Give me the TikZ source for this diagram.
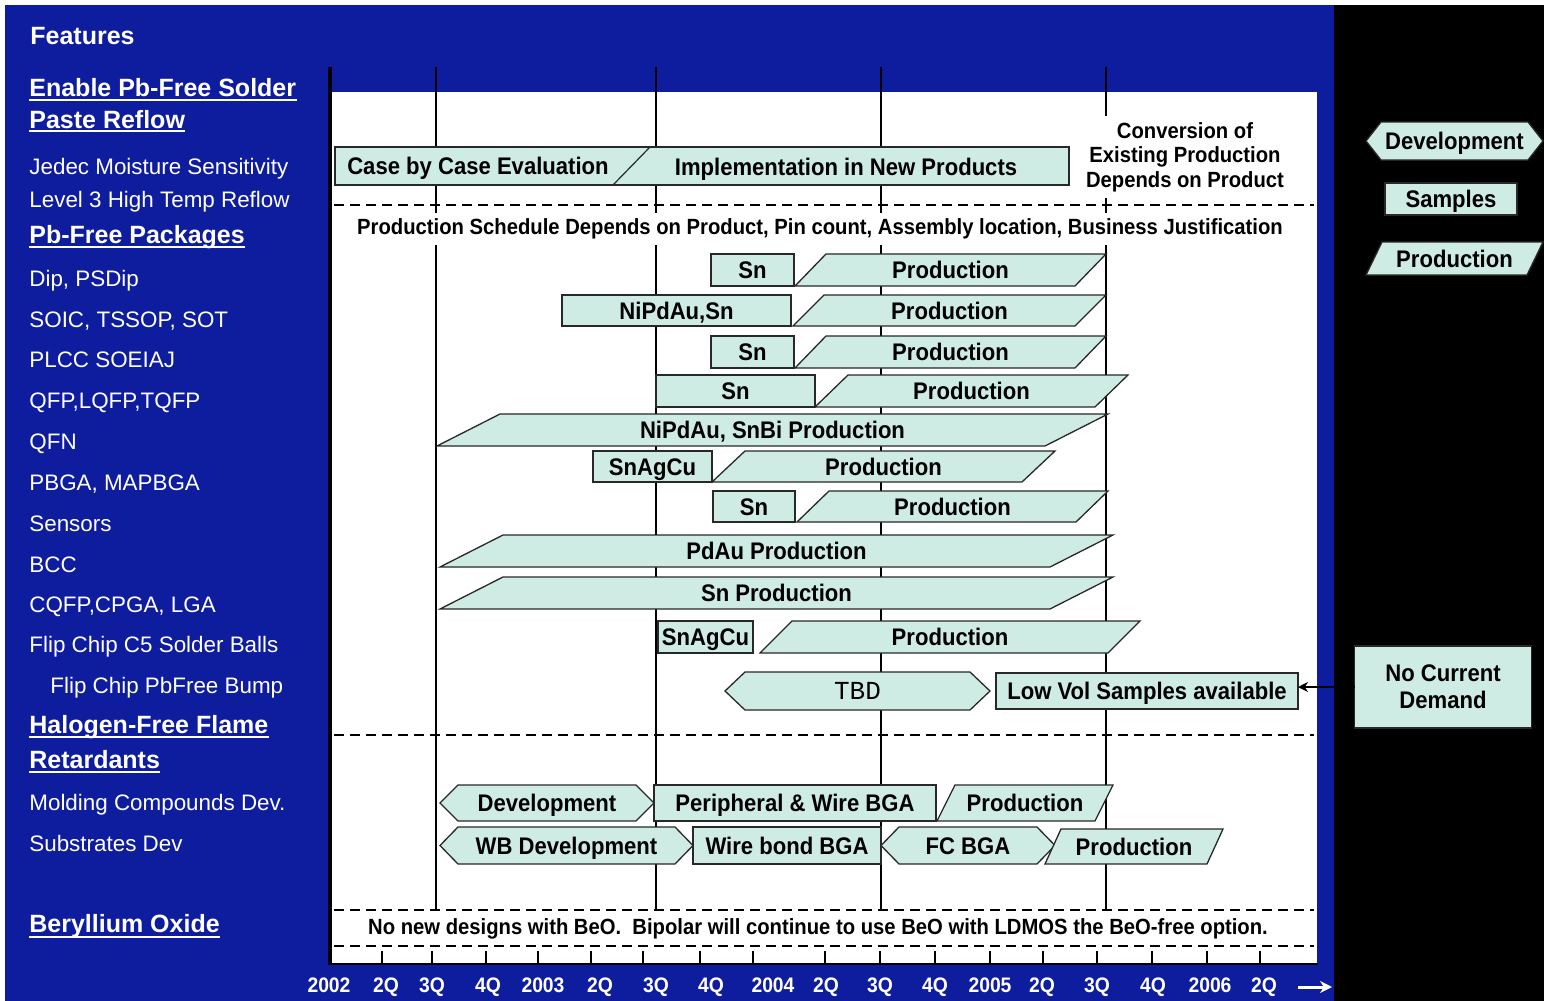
\documentclass[tikz,border=0pt]{standalone}
\usepackage{fontspec}
\setmainfont{Liberation Sans}
\newfontfamily\barfont[FakeStretch=0.92]{Liberation Sans}
\newfontfamily\tbdfont{Liberation Mono}
\usetikzlibrary{arrows.meta,calc}

\definecolor{panelblue}{RGB}{14,28,158}
\definecolor{barfill}{RGB}{206,236,228}
\definecolor{barline}{RGB}{40,40,40}

\tikzset{
  bar/.style={draw=barline, fill=barfill, line width=0.65pt, line join=miter},
  bartext/.style={font={\barfont\bfseries\fontsize{12}{14}\selectfont}, text=black, inner sep=0,
                  text height=8.6pt, text depth=0pt},
  sampbox/.style={bar, inner sep=0, outer sep=0, font={\barfont\bfseries\fontsize{12}{14}\selectfont},
                  text=black, text height=8.6pt, text depth=0pt},
  demandbox/.style={bar, inner sep=0, outer sep=0, align=center, text=black,
                    font={\barfont\bfseries\fontsize{12}{13.5}\selectfont}},
  feat/.style={anchor=base west, inner sep=0, text=white, font={\fontsize{11.2}{13}\selectfont}},
  head/.style={anchor=base west, inner sep=0, text=white, font={\bfseries\fontsize{12.5}{15}\selectfont}},
  uline/.style={white, line width=1.1pt},
  gridline/.style={black, line width=0.75pt},
  sepline/.style={black, line width=0.7pt, dash pattern=on 5pt off 3pt},
  note/.style={fill=white, text=black, inner xsep=2pt, inner ysep=3pt, font={\barfont\bfseries\fontsize{11}{12.2}\selectfont}},
  axislbl/.style={text=white, inner sep=0, anchor=base, font={\barfont\bfseries\fontsize{10.5}{12}\selectfont}},
}

% Production: parallelogram leaning right
% #1 name, #2 bottom-left x, #3 top-right x, #4 top y, #5 bottom y, #6 slant, #7 label
\newcommand{\ProdBar}[7]{%
  \draw[bar] (#2,#5) -- ({#2+#6},#4) -- (#3,#4) -- ({#3-#6},#5) -- cycle;
  \node[bartext] (#1) at ({(#2+#3)/2},{(#4+#5)/2}) {#7};}
% Samples: plain box
% #1 name, #2 left x, #3 right x, #4 top y, #5 bottom y, #6 label
\newcommand{\SampBar}[6]{%
  \node[sampbox, minimum width={(#3-#2)*0.5pt}, minimum height={(#5-#4)*0.5pt}]
    (#1) at ({(#2+#3)/2},{(#4+#5)/2}) {#6};}
% Development: pointed hexagon
% #1 name, #2 left tip x, #3 right tip x, #4 top y, #5 bottom y, #6 indent, #7 label
\newcommand{\DevBar}[7]{%
  \draw[bar] (#2,{(#4+#5)/2}) -- ({#2+#6},#4) -- ({#3-#6},#4) -- (#3,{(#4+#5)/2})
     -- ({#3-#6},#5) -- ({#2+#6},#5) -- cycle;
  \node[bartext] (#1) at ({(#2+#3)/2},{(#4+#5)/2}) {#7};}

\begin{document}
\begin{tikzpicture}[x=0.5pt,y=-0.5pt]
\useasboundingbox (0,0) rectangle (1544,1001);

% backgrounds
\fill[white] (0,0) rectangle (1544,1001);
\fill[panelblue] (5,5) rectangle (1334,1001);
\fill[black] (1334,5) rectangle (1544,1001);
\fill[white] (332,92) rectangle (1317,963);

% quarter grid lines
\foreach \gx in {436,656,881,1106}
  \draw[gridline] (\gx,67) -- (\gx,910);

% dashed separators
\foreach \gy in {205,735,910,946}
  \draw[sepline] (334,\gy) -- (1314,\gy);

% axes
\draw[black, line width=2pt] (330,67) -- (330,965);
\draw[black, line width=1.2pt] (330,964) -- (1318,964);
\foreach \tx in {382,432,486,538,591,643,700,753,825,880,935,990,1043,1097,1152,1207,1260}
  \draw[black, line width=0.7pt] (\tx,963) -- (\tx,951);

% axis labels
\foreach \lx/\lt in {329/2002,386/2Q,432/3Q,488/4Q,543/2003,600/2Q,656/3Q,711/4Q,773/2004,826/2Q,880/3Q,935/4Q,990/2005,1042/2Q,1097/3Q,1153/4Q,1210/2006,1264/2Q}
  \node[axislbl] at (\lx,992) {\lt};
\coordinate (axA) at (1298,987);
\coordinate (axB) at (1332,987);
\draw[white, line width=1.5pt, -{Stealth[length=6pt,width=6pt]}] (axA) -- (axB);

% feature list
\node[head] (fthead) at (30,45) {Features};
\node[head] (h1) at (29,97) {Enable Pb-Free Solder};
\draw[uline] ([yshift=-1.5pt]h1.base west) -- ([yshift=-1.5pt]h1.base east);
\node[head] (h2) at (29,128) {Paste Reflow};
\draw[uline] ([yshift=-1.5pt]h2.base west) -- ([yshift=-1.5pt]h2.base east);
\node[feat] (f1) at (29,174) {Jedec Moisture Sensitivity};
\node[feat] (f2) at (29,207) {Level 3 High Temp Reflow};
\node[head] (h3) at (29,243) {Pb-Free Packages};
\draw[uline] ([yshift=-2pt]h3.base west) -- ([yshift=-2pt]h3.base east);
\node[feat] (f3) at (29,286) {Dip, PSDip};
\node[feat] (f4) at (29,327) {SOIC, TSSOP, SOT};
\node[feat] (f5) at (29,367) {PLCC SOEIAJ};
\node[feat] (f6) at (29,408) {QFP,LQFP,TQFP};
\node[feat] (f7) at (29,449) {QFN};
\node[feat] (f8) at (29,490) {PBGA, MAPBGA};
\node[feat] (f9) at (29,531) {Sensors};
\node[feat] (f10) at (29,572) {BCC};
\node[feat] (f11) at (29,612) {CQFP,CPGA, LGA};
\node[feat] (f12) at (29,652) {Flip Chip C5 Solder Balls};
\node[feat] (f13) at (50,693) {Flip Chip PbFree Bump};
\node[head] (h4) at (29,733) {Halogen-Free Flame};
\draw[uline] ([yshift=-2pt]h4.base west) -- ([yshift=-2pt]h4.base east);
\node[head] (h5) at (29,768) {Retardants};
\draw[uline] ([yshift=-2pt]h5.base west) -- ([yshift=-2pt]h5.base east);
\node[feat] (f14) at (29,810) {Molding Compounds Dev.};
\node[feat] (f15) at (29,851) {Substrates Dev};
\node[head] (h6) at (29,932) {Beryllium Oxide};
\draw[uline] ([yshift=-2.5pt]h6.base west) -- ([yshift=-2.5pt]h6.base east);

% solder paste reflow row
\draw[bar] (335,147) rectangle (1069,185);
\draw[barline, line width=0.6pt] (613,185) -- (650,147);
\node[bartext] (casebycase) at (478,166) {Case by Case Evaluation};
\node[bartext] (implement) at (846,167) {Implementation in New Products};
\node[note, align=center] (conv) at (1185,157) {Conversion of\\Existing Production\\Depends on Product};

\node[note] (schedule) at (820,229) {Production Schedule Depends on Product, Pin count, Assembly location, Business Justification};

% package rows
\SampBar{snA}{711}{794}{254}{286}{Sn}
\ProdBar{prA}{795}{1106}{254}{286}{31}{Production}
\SampBar{nipdB}{562}{791}{295}{326}{NiPdAu,Sn}
\ProdBar{prB}{793}{1106}{295}{326}{31}{Production}
\SampBar{snC}{711}{794}{336}{368}{Sn}
\ProdBar{prC}{795}{1106}{336}{368}{31}{Production}
\SampBar{snD}{656}{815}{375}{407}{Sn}
\ProdBar{prD}{815}{1128}{375}{407}{33}{Production}
\ProdBar{prE}{437}{1108}{414}{446}{63}{NiPdAu, SnBi Production}
\SampBar{sacF}{593}{712}{451}{482}{SnAgCu}
\ProdBar{prF}{712}{1055}{451}{482}{33}{Production}
\SampBar{snG}{713}{795}{491}{522}{Sn}
\ProdBar{prG}{797}{1108}{491}{522}{32}{Production}
\ProdBar{prH}{440}{1113}{535}{567}{63}{PdAu Production}
\ProdBar{prI}{440}{1113}{577}{609}{63}{Sn Production}
\SampBar{sacJ}{658}{753}{621}{653}{SnAgCu}
\ProdBar{prJ}{760}{1140}{621}{653}{32}{Production}
\DevBar{tbd}{725}{990}{672}{710}{20}{{\tbdfont\mdseries\fontsize{13}{15}\selectfont TBD}}
\SampBar{lowvol}{996}{1298}{673}{709}{Low Vol Samples available}

% halogen-free rows
\DevBar{devL}{440}{654}{785}{821}{18}{Development}
\SampBar{periL}{654}{936}{785}{821}{Peripheral \& Wire BGA}
\ProdBar{prL}{937}{1113}{785}{821}{18}{Production}
\DevBar{wbdM}{440}{693}{827}{864}{18}{WB Development}
\SampBar{wbM}{693}{881}{827}{864}{Wire bond BGA}
\DevBar{fcM}{881}{1055}{827}{864}{18}{FC BGA}
\ProdBar{prM}{1045}{1223}{829}{864}{16}{Production}

% beryllium oxide note
\node[note] (beo) at (818,929)
  {No new designs with BeO.\ \ Bipolar will continue to use BeO with LDMOS the BeO-free option.};

% legend
\DevBar{lgDev}{1366}{1543}{122}{160}{15}{Development}
\SampBar{lgSamp}{1385}{1517}{183}{215}{Samples}
\ProdBar{lgProd}{1366}{1543}{242}{275}{16}{Production}

% no current demand
\node[demandbox, minimum width={177*0.5pt}, minimum height={82*0.5pt}] (demand) at (1443,687) {No Current\\Demand};
\draw[black, line width=1pt, -{Stealth[length=5pt,width=5pt]}] (demand.west) -- (demand.west -| lowvol.east);

\end{tikzpicture}
\end{document}
